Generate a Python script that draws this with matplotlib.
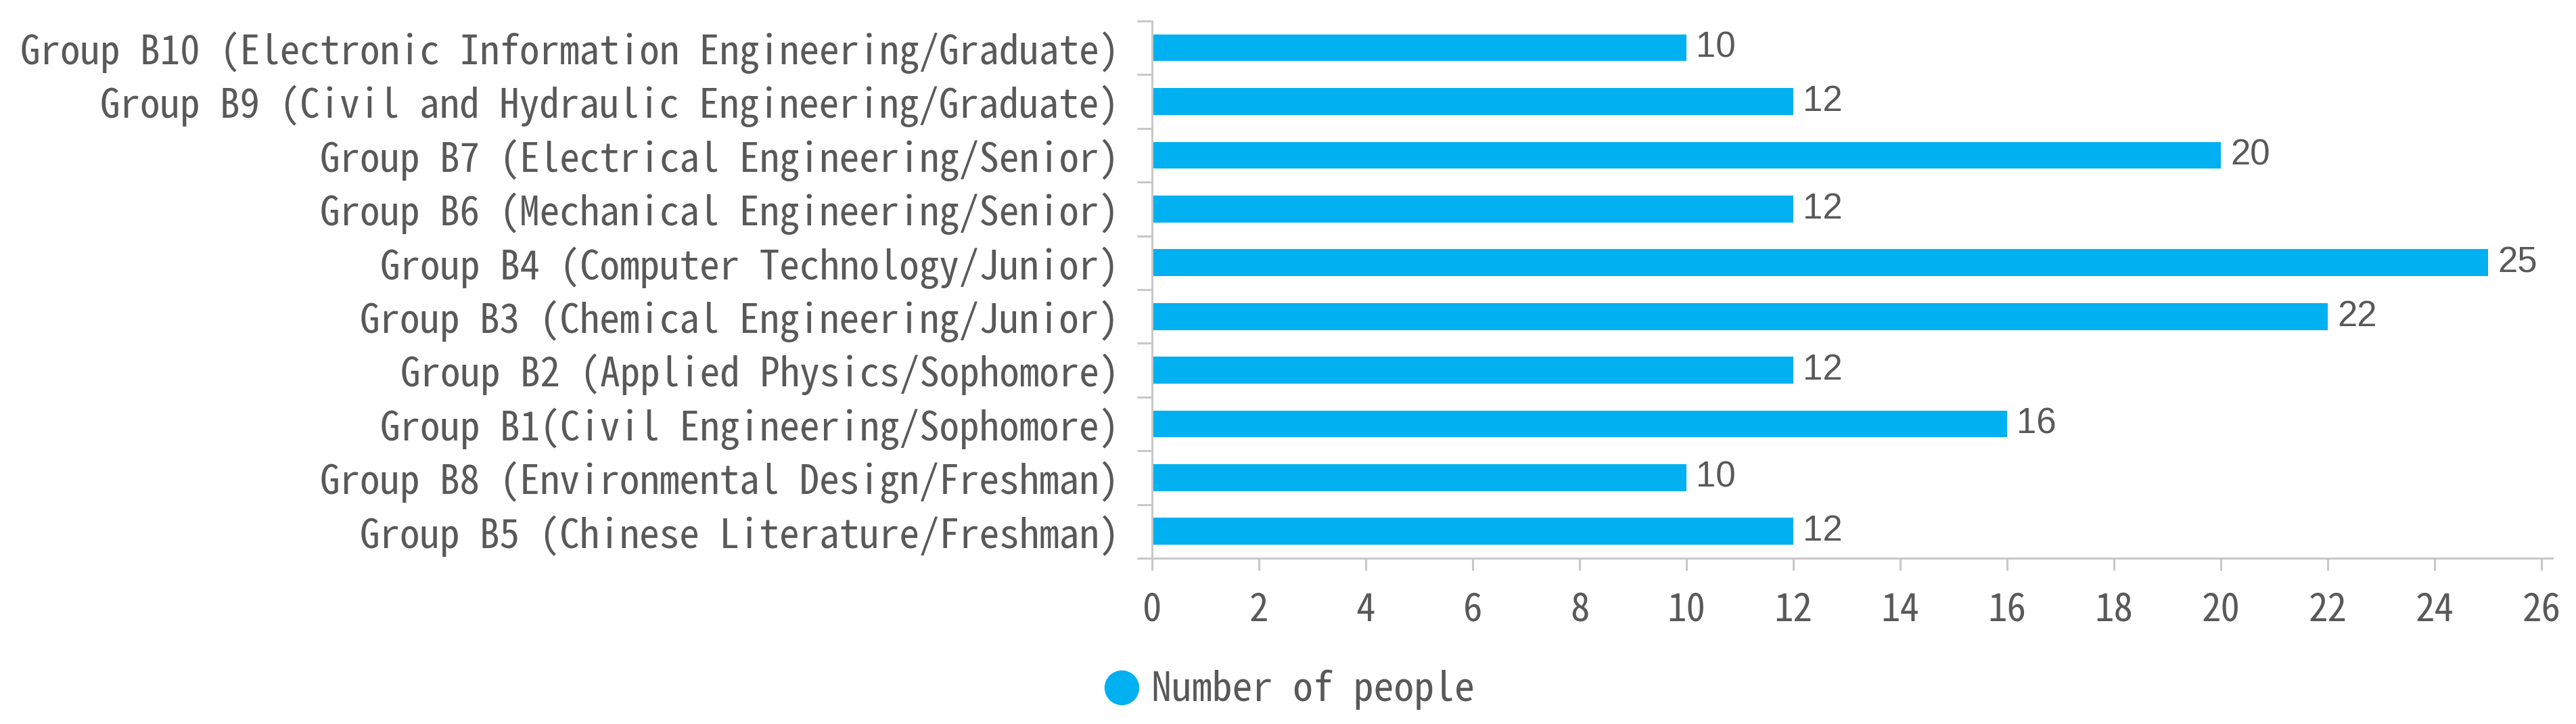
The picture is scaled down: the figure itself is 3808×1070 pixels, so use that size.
import matplotlib
matplotlib.use("Agg")
import matplotlib.pyplot as plt
from matplotlib import font_manager
from matplotlib.lines import Line2D
import numpy as np

# data, top to bottom as shown
groups = [
    "Group B10 (Electronic Information Engineering/Graduate)",
    "Group B9 (Civil and Hydraulic Engineering/Graduate)",
    "Group B7 (Electrical Engineering/Senior)",
    "Group B6 (Mechanical Engineering/Senior)",
    "Group B4 (Computer Technology/Junior)",
    "Group B3 (Chemical Engineering/Junior)",
    "Group B2 (Applied Physics/Sophomore)",
    "Group B1(Civil Engineering/Sophomore)",
    "Group B8 (Environmental Design/Freshman)",
    "Group B5 (Chinese Literature/Freshman)",
]
people = [10, 12, 20, 12, 25, 22, 12, 16, 10, 12]
x_ticks = list(range(0, 27, 2))
series_name = "Number of people"

bar_color = "#00B0F0"
text_color = "#595959"
axis_color = "#C8C8C8"

# monospace-looking font like the original
try:
    font_manager.findfont("Noto Sans Mono CJK SC", fallback_to_default=False)
    mono = ["Noto Sans Mono CJK SC", "DejaVu Sans Mono"]
    lab_size, tick_size, leg_size = 42.5, 41, 43
except ValueError:
    mono = ["DejaVu Sans Mono"]
    lab_size, tick_size, leg_size = 34, 34, 35

fig = plt.figure(figsize=(38.08, 10.70), dpi=100)
ax = fig.add_axes([0.4472, 0.2290, 0.5436, 0.7421])

y = np.arange(len(groups))
bars = ax.barh(y, people, height=0.5, color=bar_color)
ax.bar_label(bars, labels=[str(v) for v in people], padding=10,
             fontsize=38, color=text_color, family="Liberation Sans")

ax.set_xlim(0, 26.2)
ax.set_ylim(len(groups) - 0.5, -0.5)

for s in ["top", "right"]:
    ax.spines[s].set_visible(False)
for s in ["left", "bottom"]:
    ax.spines[s].set_color(axis_color)
    ax.spines[s].set_linewidth(2.2)

ax.set_xticks(x_ticks)
ax.set_xticklabels([str(t) for t in x_ticks], family=mono, fontsize=tick_size,
                   color=text_color)
ax.tick_params(axis="x", length=13, width=2.2, color=axis_color, pad=22)

ax.set_yticks(y)
ax.set_yticklabels(groups, family=mono, fontsize=lab_size, color=text_color)
ax.set_yticks(np.arange(len(groups) + 1) - 0.5, minor=True)
ax.tick_params(axis="y", which="major", length=0, pad=35)
ax.tick_params(axis="y", which="minor", length=16, width=2.2, color=axis_color)

handle = Line2D([], [], marker="o", linestyle="", markersize=36,
                markerfacecolor=bar_color, markeredgecolor=bar_color)
fig.legend(handles=[handle], labels=[series_name], loc="center left",
           bbox_to_anchor=(0.4055, 0.047), frameon=False, handletextpad=-0.25,
           prop={"family": mono, "size": leg_size}, labelcolor=text_color)

fig.savefig("out.png", dpi=100, facecolor="white")
